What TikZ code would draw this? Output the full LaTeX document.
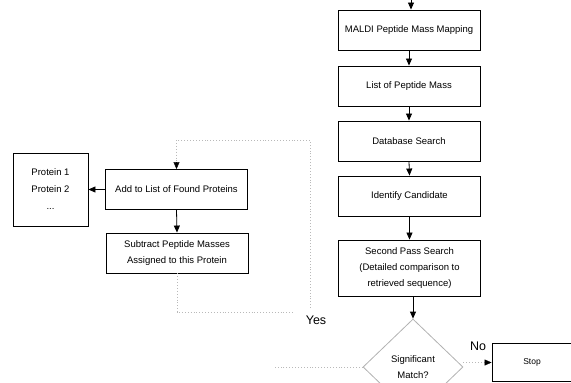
\documentclass[tikz,border=0pt]{standalone}
\usepackage{fontspec}
\setmainfont{Liberation Sans}
\usepackage{tikz}
\usetikzlibrary{arrows.meta,calc}
\usetikzlibrary{shapes.geometric}

\begin{document}
\begin{tikzpicture}[x=1pt, y=-1pt,
    stepbox/.style={draw=black, line width=0.9pt, minimum width=142pt, minimum height=40pt,
                    inner sep=0pt, align=center, font=\fontsize{9.5}{16}\selectfont},
    flow/.style={line width=0.8pt, -{Triangle[width=6pt,length=7pt]}},
    loopline/.style={gray!55, dotted, line width=0.9pt},
    ]
   \useasboundingbox (0,0) rectangle (571,383);
   % main column
   \coordinate (start) at (411,-2);
   \node[stepbox] (maldi) at (409,30) {MALDI Peptide Mass Mapping};
   \node[stepbox] (masslist) at (409,86) {List of Peptide Mass};
   \node[stepbox] (dbsearch) at (409,141) {Database Search};
   \node[stepbox] (candidate) at (409.5,196) {Identify Candidate};
   \node[stepbox, minimum height=56pt] (secondpass) at (409.5,268)
        {Second Pass Search\\(Detailed comparison to\\retrieved sequence)};
   \node[draw=gray!60, line width=0.8pt, diamond, minimum width=100pt, minimum height=96pt,
         inner sep=0pt, align=center, font=\fontsize{9.5}{16}\selectfont] (match) at (413,367)
        {Significant\\Match?};
   \node[draw=black, line width=0.9pt, minimum width=80pt, minimum height=38pt,
         font=\fontsize{8.5}{10}\selectfont] (stop) at (532,362.5) {Stop};
   % left side
   \node[stepbox] (addlist) at (176.5,189.5) {Add to List of Found Proteins};
   \node[stepbox] (subtract) at (177,253) {Subtract Peptide Masses\\Assigned to this Protein};
   \node[draw=black, line width=0.9pt, minimum width=75pt, minimum height=73pt, inner sep=0pt,
         align=center, font=\fontsize{9.5}{17}\selectfont] (proteins) at (50.5,189.5)
        {Protein 1\\Protein 2\\...};
   \node[font=\fontsize{12.5}{14}\selectfont] (yes) at (316,320) {Yes};
   \node[font=\fontsize{12.5}{14}\selectfont] (no) at (478,346) {No};

   \draw[flow] (start) -- (start |- maldi.north);
   \draw[flow] (maldi.south) -- (masslist.north);
   \draw[flow] (masslist.south) -- (dbsearch.north);
   \draw[flow] (dbsearch.south) -- (candidate.north);
   \draw[flow] (candidate.south) -- (secondpass.north);
   \draw[flow] (match.north |- secondpass.south) -- (match.north);
   \draw[flow] (addlist.west) -- (proteins.east);
   \draw[flow] (addlist.south) -- (subtract.north);
   \draw[loopline] (match.east |- stop.west) -- (stop.west);
   \draw[-{Triangle[width=6pt,length=7pt]}] ($(stop.west)+(-2,0)$) -- (stop.west);

   % dotted loop
   \coordinate (yesend) at (275,360);
   \coordinate (loopup) at (310,308);
   \coordinate (looptop) at (310,140);
   \coordinate (subend) at (293,312);
   \draw[loopline] (match.west) -- (match.west -| yesend);
   \draw[loopline] (loopup) -- (looptop) -| (addlist.north);
   \draw[-{Triangle[width=6pt,length=7pt]}] ($(addlist.north)+(0,-2)$) -- (addlist.north);
   \draw[loopline] (subtract.south) |- (subend);
\end{tikzpicture}
\end{document}
